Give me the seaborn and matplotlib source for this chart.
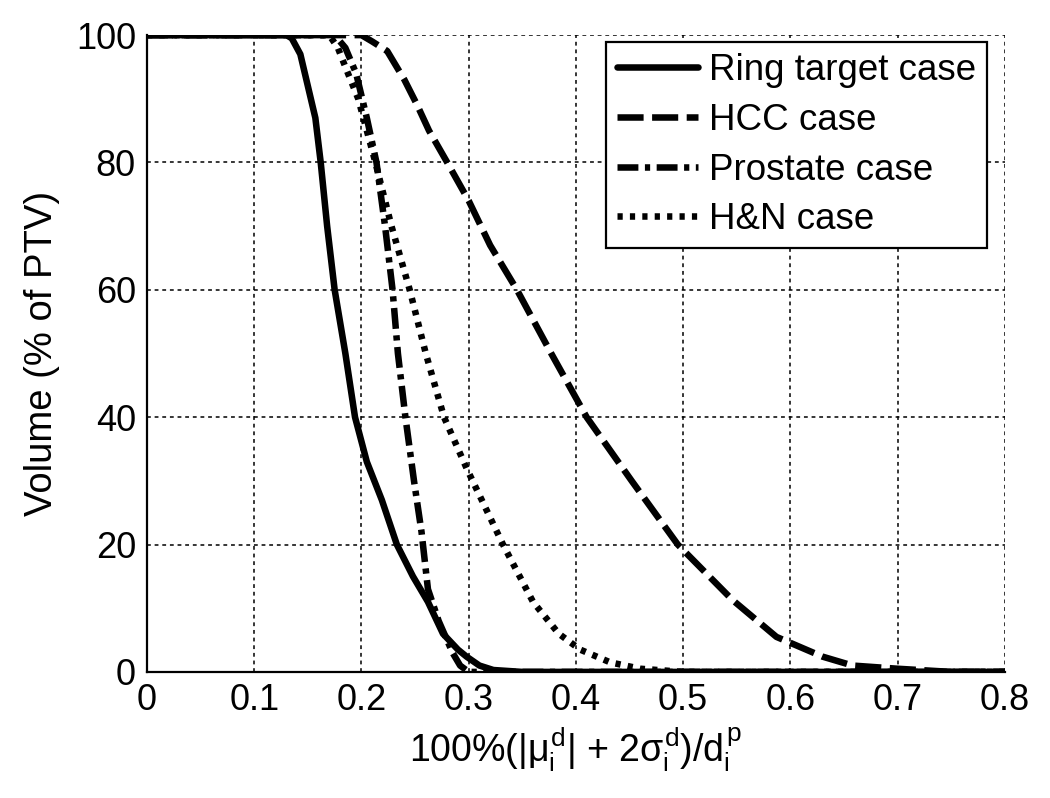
import numpy as np
import pandas as pd
import matplotlib
matplotlib.use('Agg')
import matplotlib.pyplot as plt
import seaborn as sns

# values
ring_x = [0, 0.13, 0.135, 0.143, 0.150, 0.157, 0.162, 0.168, 0.175, 0.185, 0.194, 0.205, 0.219, 0.233,
          0.248, 0.262, 0.276, 0.29, 0.298, 0.31, 0.323, 0.35, 0.8]
ring_y = [100, 100, 99.5, 97, 92, 87, 80, 70, 60, 50, 40, 33, 27, 20, 15, 11, 6, 3.5, 2.4, 1, 0.3, 0, 0]

hcc_x = [0, 0.2, 0.21, 0.224, 0.24, 0.252, 0.263, 0.28, 0.30, 0.32, 0.345, 0.377, 0.41, 0.452, 0.495,
         0.546, 0.587, 0.63, 0.658, 0.70, 0.75, 0.8]
hcc_y = [100, 100, 99, 97.5, 93, 89, 85, 80, 74, 67, 60, 50, 40, 30, 20, 11.3, 5.5, 2.4, 1, 0.5, 0, 0]

prostate_x = [0, 0.175, 0.185, 0.195, 0.205, 0.214, 0.222, 0.229, 0.234, 0.241, 0.249, 0.256, 0.262,
              0.272, 0.285, 0.292, 0.3, 0.8]
prostate_y = [100, 100, 98, 94, 87, 80, 70, 60, 50, 40, 30, 22, 13, 8, 3, 1, 0, 0]

hn_x = [0, 0.17, 0.178, 0.185, 0.197, 0.213, 0.228, 0.245, 0.26, 0.277, 0.298, 0.315, 0.332, 0.36,
        0.384, 0.404, 0.432, 0.46, 0.5, 0.8]
hn_y = [100, 100, 98, 95, 90, 80, 70, 60, 50, 40, 32, 26, 20, 11, 6, 3.5, 1.5, 0.5, 0, 0]

labels = ['Ring target case', 'HCC case', 'Prostate case', 'H&N case']
styles = ['-', (0, (4, 1.3)), (0, (3.2, 1.0, 0.8, 1.0)), (0, (0.8, 1.1))]

sns.set_style('white')
plt.rcParams['font.family'] = ['Liberation Sans', 'DejaVu Sans']
plt.rcParams['text.color'] = 'black'
plt.rcParams['axes.labelcolor'] = 'black'
plt.rcParams['mathtext.fontset'] = 'custom'
plt.rcParams['mathtext.rm'] = 'Liberation Sans'
plt.rcParams['mathtext.it'] = 'Liberation Sans'
plt.rcParams['mathtext.bf'] = 'Liberation Sans:bold'

fig = plt.figure(figsize=(10.5, 7.98), dpi=100)
ax = fig.add_axes([0.14, 0.158, 0.817, 0.798])

series = [(ring_x, ring_y), (hcc_x, hcc_y), (prostate_x, prostate_y), (hn_x, hn_y)]
for (xs, ys), lab, ls in zip(series, labels, styles):
    df = pd.DataFrame({'x': xs, 'y': ys})
    sns.lineplot(data=df, x='x', y='y', ax=ax, color='black', lw=4.7, ls=ls,
                 label=lab, estimator=None, sort=False, zorder=3)

ax.set_xlim(0, 0.8)
ax.set_ylim(0, 100)
ax.set_xticks(np.arange(0, 0.81, 0.1))
ax.set_xticklabels(['0', '0.1', '0.2', '0.3', '0.4', '0.5', '0.6', '0.7', '0.8'])
ax.set_yticks([0, 20, 40, 60, 80, 100])
ax.grid(True, color='black', ls=(0, (2.5, 2.5)), lw=1.1)
ax.set_axisbelow(True)

for s in ['top', 'right']:
    ax.spines[s].set_visible(False)
for s in ['left', 'bottom']:
    ax.spines[s].set_color('black')
    ax.spines[s].set_linewidth(1.6)
ax.tick_params(direction='in', length=6, width=1.3, colors='black', labelsize=26, pad=8)

ax.set_xlabel(r'100%$(|\mu_i^d|$ + 2$\sigma_i^d)/d_i^p$', fontsize=27, labelpad=5)
ax.set_ylabel('Volume (% of PTV)', fontsize=27.5, labelpad=11)

leg = ax.legend(loc='upper right', bbox_to_anchor=(0.979, 0.989), borderaxespad=0,
                fontsize=26.5, handlelength=2.2, handletextpad=0.3, labelspacing=0.4,
                fancybox=False, framealpha=1, edgecolor='black', borderpad=0.3)
leg.get_frame().set_linewidth(1.6)

fig.savefig('out.png', dpi=100)
